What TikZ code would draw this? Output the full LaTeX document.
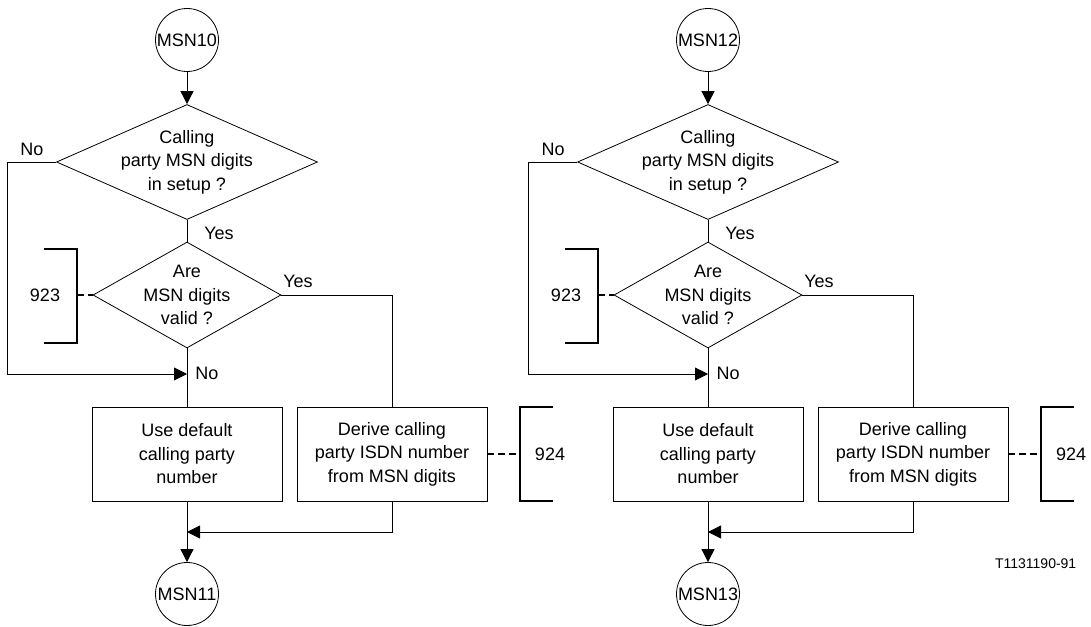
\documentclass[tikz,border=0pt]{standalone}
\usepackage{fontspec}
\setmainfont{Liberation Sans}
\usepackage{tikz}
\usetikzlibrary{shapes.geometric,arrows.meta}

\begin{document}
\begin{tikzpicture}[x=1pt,y=-1pt,line width=0.8pt,
  font=\fontsize{18}{23.5}\selectfont,
  conn/.style={circle,draw,inner sep=0pt,minimum size=63pt},
  test/.style={diamond,draw,inner sep=0pt},
  task/.style={rectangle,draw,align=center,minimum width=190pt,minimum height=94pt},
  flow/.style={-{Triangle[length=13pt,width=13pt]}},
  brack/.style={line width=2.2pt},
  ref/.style={line width=2.6pt,dash pattern=on 7pt off 4pt}]
  \useasboundingbox (0,0) rectangle (1091,626);

  \node[conn] (msn10) at (187,40) {MSN10};
  \node[test,minimum width=261pt,minimum height=115pt,
    label={[align=center]center:Calling\\party MSN digits\\in setup ?}] (setup1) at (187,162) {};
  \node[test,minimum width=188pt,minimum height=106pt,
    label={[align=center]center:Are\\MSN digits\\valid ?}] (valid1) at (187,295) {};
  \node[task] (default1) at (187,454) {Use default\\calling party\\number};
  \node[task] (derive1) at (392,454) {Derive calling\\party ISDN number\\from MSN digits};
  \node[conn] (msn11) at (187,594) {MSN11};
  \coordinate (in1) at (187,374);
  \coordinate (out1) at (187,532);
  \coordinate (b923a) at (77,295);
  \coordinate (b924a) at (520,454);
  \node (n923a) at (45,295) {923};
  \node (n924a) at (550,454) {924};
  \node (no1) at (32,149) {No};
  \node (yes1) at (219,233) {Yes};
  \node (yes2) at (298,281) {Yes};
  \node (no2) at (207,373) {No};

  \draw[flow] (msn10) -- (setup1.north);
  \draw (setup1.south) -- (valid1.north);
  \draw[flow] (setup1.west) -- ++(-49,0) |- (in1);
  \draw (valid1.south) -- (default1.north);
  \draw (valid1.east) -| (derive1.north);
  \draw[flow] (derive1.south) |- (out1);
  \draw[flow] (default1.south) -- (msn11);
  \draw[brack] (44,249) -- (77,249) -- (77,343) -- (44,343);
  \draw[ref] (b923a) -- (valid1.west);
  \draw[brack] (553,407) -- (520,407) -- (520,501) -- (553,501);
  \draw[ref] (derive1.east) -- (b924a);

  \node[conn] (msn12) at (708,40) {MSN12};
  \node[test,minimum width=261pt,minimum height=115pt,
    label={[align=center]center:Calling\\party MSN digits\\in setup ?}] (setup2) at (708,162) {};
  \node[test,minimum width=188pt,minimum height=106pt,
    label={[align=center]center:Are\\MSN digits\\valid ?}] (valid2) at (708,295) {};
  \node[task] (default2) at (708,454) {Use default\\calling party\\number};
  \node[task] (derive2) at (913,454) {Derive calling\\party ISDN number\\from MSN digits};
  \node[conn] (msn13) at (708,594) {MSN13};
  \coordinate (in2) at (708,374);
  \coordinate (out2) at (708,532);
  \coordinate (b923b) at (598,295);
  \coordinate (b924b) at (1041,454);
  \node (n923b) at (566,295) {923};
  \node (n924b) at (1071,454) {924};
  \node (no3) at (553,149) {No};
  \node (yes3) at (740,233) {Yes};
  \node (yes4) at (819,281) {Yes};
  \node (no4) at (728,373) {No};

  \draw[flow] (msn12) -- (setup2.north);
  \draw (setup2.south) -- (valid2.north);
  \draw[flow] (setup2.west) -- ++(-49,0) |- (in2);
  \draw (valid2.south) -- (default2.north);
  \draw (valid2.east) -| (derive2.north);
  \draw[flow] (derive2.south) |- (out2);
  \draw[flow] (default2.south) -- (msn13);
  \draw[brack] (565,249) -- (598,249) -- (598,343) -- (565,343);
  \draw[ref] (b923b) -- (valid2.west);
  \draw[brack] (1074,407) -- (1041,407) -- (1041,501) -- (1074,501);
  \draw[ref] (derive2.east) -- (b924b);

  \node[anchor=east] (fig) at (1080,564) {\fontsize{14}{16}\selectfont T1131190-91};
\end{tikzpicture}
\end{document}
